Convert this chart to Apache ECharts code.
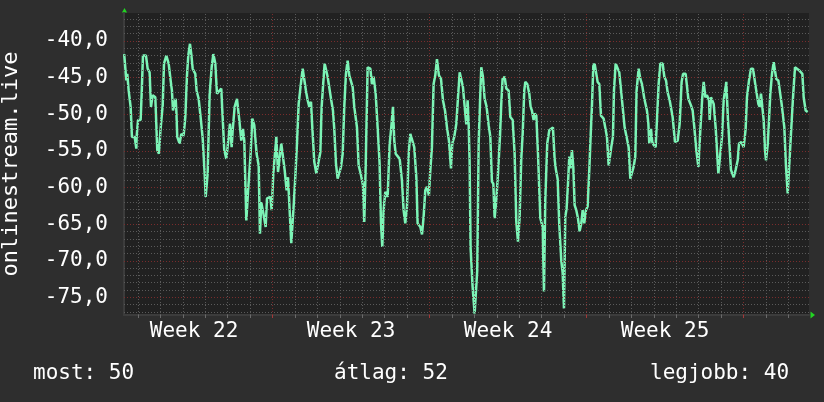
<!DOCTYPE html>
<html><head><meta charset="utf-8">
<script src="https://cdn.jsdelivr.net/npm/echarts@6/dist/echarts.min.js"></script>
<style>html,body{margin:0;padding:0;background:#2e2e2e;}#c{width:824px;height:402px;}</style>
</head><body><div id="c"></div>
<script>
// time in hours since the start of Week 22
const hours = [
9.2,11.5,12.5,14.0,16.1,17.5,20.4,22.2,22.5,24.0,26.8,27.9,29.3,32.5,34.3,36.4,37.9,39.7,42.5,44.6,
46.4,47.9,50.4,51.8,54.3,56.8,58.9,60.3,61.4,64.3,65.0,66.0,68.5,70.3,72.8,74.6,76.4,77.8,79.6,81.0,
82.5,85.3,86.7,88.9,91.0,93.2,95.3,96.4,98.5,100.6,102.8,104.6,106.7,108.5,113.1,114.2,116.3,118.5,121.0,122.4,
124.2,125.3,127.4,129.9,132.4,134.5,136.3,137.7,139.9,141.7,144.5,146.3,148.4,150.9,153.1,154.5,155.9,158.1,160.6,162.0,
165.6,167.0,168.8,172.0,173.8,177.3,180.9,183.0,184.5,188.0,189.2,
190.5,192.3,194.1,195.9,197.7,200.2,202.3,203.7,205.5,207.3,209.1,210.5,212.6,214.8,216.9,219.1,220.5,221.9,223.7,225.5,
226.9,229.0,230.5,232.6,234.0,235.8,237.6,239.4,241.2,243.0,244.7,246.5,248.3,250.1,251.9,253.7,255.4,258.3,260.1,262.6,
264.7,266.1,267.6,269.7,272.6,274.3,276.1,278.3,280.4,282.5,284.0,285.4,286.8,288.6,291.1,293.2,295.0,296.8,298.2,299.7,
301.8,304.0,306.4,308.2,310.0,311.8,313.6,315.4,317.1,319.6,321.8,323.2,326.1,327.9,329.6,331.4,333.2,335.3,336.8,338.5,
340.3,342.1,343.9,346.0,348.2,350.3,352.5,354.6,356.7,358.9,360.3,362.4,364.6,366.4,368.2,370.3,371.7,373.9,375.3,376.7,
377.8,378.8,379.9,382.0,384.2,386.0,387.0,388.5,
389.9,391.3,393.1,394.9,397.0,399.2,401.0,402.7,404.2,405.6,407.4,409.2,411.3,412.7,414.1,416.3,418.1,420.6,422.4,424.9,
427.0,428.8,430.6,432.3,434.1,435.6,437.3,438.4,440.5,442.7,444.1,445.5,447.3,448.4,450.2,452.0,454.5,457.0,458.4,459.8,
461.9,464.1,466.2,468.0,469.8,471.2,473.0,474.8,476.9,478.4,479.8,481.2,482.6,484.1,485.5,486.9,488.3,489.8,491.2,493.0,
494.8,496.5,498.3,499.8,501.5,503.3,505.1,506.9,508.3,509.7,511.2,512.6,514.4,515.8,517.6,519.4,522.2,524.0,525.8,527.6,
529.0,530.4,532.2,533.3,535.1,536.9,539.0,540.4,542.6,544.7,546.8,549.0,550.8,552.6,554.3,556.1,557.5,559.7,561.5,563.3,
565.8,
566.9,568.6,570.1,571.1,572.9,574.3,575.8,577.9,579.3,581.1,582.9,585.4,587.2,589.0,590.7,592.9,596.1,598.6,601.5,603.6,
605.7,607.2,610.0,612.9,615.7,617.5,619.3,621.4,623.6,625.7,627.8,629.3,631.1,632.8,635.0,635.7,637.1,640.0,642.1,645.0,
647.1,648.9,650.7,653.5,655.3,658.5,661.4,663.5,665.7,667.1,669.6,672.1,674.2,675.6,677.8,679.9,682.1,684.6,686.3,687.8,
689.2,690.6,693.5,694.9,696.0,697.8,699.2,700.6,702.4,704.2,707.0,709.2,712.7,715.6,717.4,719.2,720.9,722.7,724.9,727.0,
729.1,731.3,734.9,736.3,738.4,740.6
];
const values = [
-41.8,-45.4,-44.5,-46.8,-49.0,-53.1,-53.1,-54.7,-53.1,-50.8,-50.8,-47.2,-42.0,-42.0,-43.8,-44.3,-49.0,-47.4,-47.7,-54.9,
-55.4,-52.4,-48.8,-43.1,-42.0,-43.1,-45.4,-46.8,-49.5,-47.9,-49.5,-53.1,-54.0,-52.7,-52.9,-50.4,-44.7,-42.0,-40.4,-41.8,
-43.8,-44.5,-46.8,-47.9,-50.4,-53.3,-58.1,-61.3,-58.1,-47.4,-43.6,-41.8,-43.1,-47.2,-46.5,-49.5,-54.9,-56.1,-53.1,-51.3,
-54.5,-52.2,-49.0,-47.9,-50.8,-53.6,-52.0,-53.6,-64.5,-60.6,-55.4,-50.6,-51.5,-55.4,-57.0,-66.3,-62.0,-63.5,-65.4,-61.5,
-61.3,-63.1,-58.1,-53.1,-57.9,-54.0,-57.6,-60.4,-58.6,-67.6,-67.6,
-62.6,-58.6,-54.0,-48.6,-46.5,-43.8,-43.8,-46.8,-48.1,-49.0,-48.3,-51.8,-56.5,-58.1,-58.1,-55.2,-49.0,-46.3,-43.1,-43.1,
-44.9,-44.9,-47.9,-49.5,-52.0,-56.7,-58.8,-58.6,-57.2,-55.4,-49.0,-44.5,-42.7,-44.7,-44.9,-46.3,-49.0,-51.8,-57.0,-58.3,
-59.7,-64.7,-57.2,-43.6,-43.8,-45.9,-44.9,-47.2,-51.8,-56.7,-64.9,-68.1,-63.1,-60.6,-61.3,-54.2,-51.8,-49.0,-53.6,-55.4,
-55.4,-56.1,-59.0,-63.1,-64.9,-62.6,-55.4,-52.7,-52.7,-54.5,-58.6,-64.9,-65.4,-66.4,-64.0,-60.4,-59.9,-61.1,-57.6,-54.5,
-45.9,-44.7,-42.5,-44.7,-45.2,-48.1,-49.5,-51.8,-53.6,-57.4,-54.0,-53.1,-51.3,-47.7,-44.3,-44.3,-46.3,-49.5,-51.4,-48.1,
-51.3,-56.3,-68.3,-73.5,-77.2,-77.2,-71.3,-54.0,
-48.6,-43.6,-44.9,-47.9,-49.0,-51.5,-53.1,-59.2,-59.5,-64.2,-61.7,-58.1,-53.1,-48.6,-45.2,-44.9,-46.5,-46.8,-50.4,-50.8,
-55.4,-64.7,-67.4,-64.2,-56.1,-52.7,-46.8,-45.6,-45.9,-47.2,-49.0,-49.5,-50.8,-49.9,-50.2,-55.4,-64.2,-65.4,-74.2,-61.7,
-54.0,-52.2,-52.0,-51.8,-56.1,-57.6,-58.8,-65.1,-69.9,-71.7,-76.5,-64.0,-62.9,-59.5,-55.8,-57.4,-54.9,-57.2,-62.4,-63.1,
-64.2,-66.0,-64.9,-63.1,-64.9,-63.1,-62.6,-57.6,-53.1,-49.0,-43.4,-43.1,-43.1,-45.6,-45.9,-50.2,-50.6,-50.8,-53.1,-57.0,
-55.8,-54.5,-53.1,-46.8,-43.1,-43.1,-44.3,-46.1,-49.0,-51.8,-53.1,-54.5,-58.8,-58.8,-57.2,-55.8,-46.8,-43.8,-45.2,-45.9,
-47.9,
-48.1,-49.5,-51.3,-54.0,-52.0,-53.8,-54.2,-54.5,-50.8,-45.9,-43.1,-43.1,-44.9,-45.4,-47.0,-48.1,-50.4,-53.8,-53.6,-51.3,
-45.6,-44.5,-44.5,-47.9,-48.8,-49.5,-51.8,-54.9,-57.2,-52.2,-47.7,-45.6,-47.7,-47.4,-48.1,-50.8,-47.7,-48.6,-51.8,-58.1,
-55.4,-53.1,-48.1,-45.6,-50.8,-57.6,-58.6,-57.6,-56.3,-54.0,-53.8,-54.5,-52.0,-47.7,-45.4,-43.8,-43.8,-46.0,-46.0,-48.6,
-49.0,-47.2,-50.8,-54.9,-56.3,-54.2,-50.8,-47.2,-44.5,-42.9,-45.2,-45.4,-48.6,-51.8,-57.2,-60.8,-60.6,-52.7,-47.7,-43.6,
-43.6,-44.0,-44.5,-47.7,-49.5,-49.7
];
const weekLabels = ['Week 22', 'Week 23', 'Week 24', 'Week 25'];
const weekCenters = [84, 252, 420, 588];
const weekBounds = [168, 336, 504, 672];
const yLabelValues = [-75, -70, -65, -60, -55, -50, -45, -40];
const yName = 'onlinestream.live';
const footerTexts = ['most: 50', 'átlag: 52', 'legjobb: 40'];

const X_MIN = 9, X_MAX = 742, Y_MIN = -77.4, Y_MAX = -36.2;
const FONT = '"DejaVu Sans Mono", monospace';
const G = {left: 124, right: 15, top: 13, bottom: 87};

const dayLines = [];
for (let h = 24; h < X_MAX; h += 24) dayLines.push(h);
const minorY = [];
for (let v = -77; v <= -37; v++) minorY.push(v);

const minorStyle = {color: '#5a5a5a', width: 1, type: [1, 2]};
const majorStyle = {color: '#7a2c2c', width: 1, type: [1, 2]};
const gridMarks = [];
dayLines.filter(h => weekBounds.indexOf(h) < 0).forEach(h => gridMarks.push({xAxis: h, lineStyle: minorStyle}));
minorY.filter(v => v % 5 !== 0).forEach(v => gridMarks.push({yAxis: v, lineStyle: minorStyle}));
weekBounds.forEach(h => gridMarks.push({xAxis: h, lineStyle: majorStyle}));
yLabelValues.forEach(v => gridMarks.push({yAxis: v, lineStyle: majorStyle}));

const chart = echarts.init(document.getElementById('c'), null, {renderer: 'canvas'});
const W = 824, H = 402;
const footerX = [33, 334, 650];
chart.setOption({
  backgroundColor: '#2e2e2e',
  animation: false,
  grid: {left: G.left, right: G.right, top: G.top, bottom: G.bottom, show: true, backgroundColor: '#212121', borderWidth: 0,
    containLabel: false, outerBoundsMode: 'none'},
  xAxis: [{
    type: 'value', min: X_MIN, max: X_MAX,
    axisLine: {show: true, lineStyle: {color: '#3c3c3c', width: 2}},
    axisTick: {show: true, customValues: dayLines, length: 3, lineStyle: {color: '#6a6a6a'}},
    axisLabel: {customValues: weekCenters, formatter: v => weekLabels[weekCenters.indexOf(v)],
      color: '#ffffff', fontFamily: FONT, fontSize: 21, margin: 6},
    splitLine: {show: false}
  }, {
    type: 'value', min: X_MIN, max: X_MAX, position: 'bottom',
    axisLine: {show: false},
    axisTick: {show: true, customValues: weekBounds, length: 3, lineStyle: {color: '#a03a3a'}},
    axisLabel: {show: false},
    splitLine: {show: false}
  }],
  yAxis: {
    type: 'value', min: Y_MIN, max: Y_MAX,
    axisLine: {show: true, lineStyle: {color: '#3c3c3c', width: 2}},
    axisTick: {show: false},
    splitLine: {show: false},
    axisLabel: {customValues: yLabelValues, formatter: v => v.toFixed(1).replace('.', ','),
      color: '#ffffff', fontFamily: FONT, fontSize: 21, margin: 16},
    name: yName, nameLocation: 'middle', nameRotate: 90, nameGap: 102,
    nameTextStyle: {color: '#ffffff', fontFamily: FONT, fontSize: 22}
  },
  series: [{
    type: 'line', data: [], z: 1, silent: true,
    markLine: {silent: true, symbol: ['none', 'none'], label: {show: false}, animation: false, data: gridMarks}
  }, {
    type: 'line', z: 3, showSymbol: false, silent: true,
    data: hours.map((h, i) => [h, values[i]]),
    lineStyle: {color: '#7cf4b6', width: 2.5}
  }],
  graphic: [
    ...footerTexts.map((t, i) => ({type: 'text', x: footerX[i], y: 374,
      style: {text: t, fill: '#ffffff', font: '21px ' + FONT, verticalAlign: 'middle'}})),
    {type: 'polygon', shape: {points: [[G.left - 2, G.top - 0.5], [G.left + 3, G.top - 0.5], [G.left + 0.5, G.top - 5]]}, style: {fill: '#22d422'}},
    {type: 'polygon', shape: {points: [[W - G.right + 1.5, H - G.bottom - 3.5], [W - G.right + 1.5, H - G.bottom + 3.5], [W - G.right + 6, H - G.bottom]]}, style: {fill: '#22d422'}}
  ]
});
</script>
</body></html>
